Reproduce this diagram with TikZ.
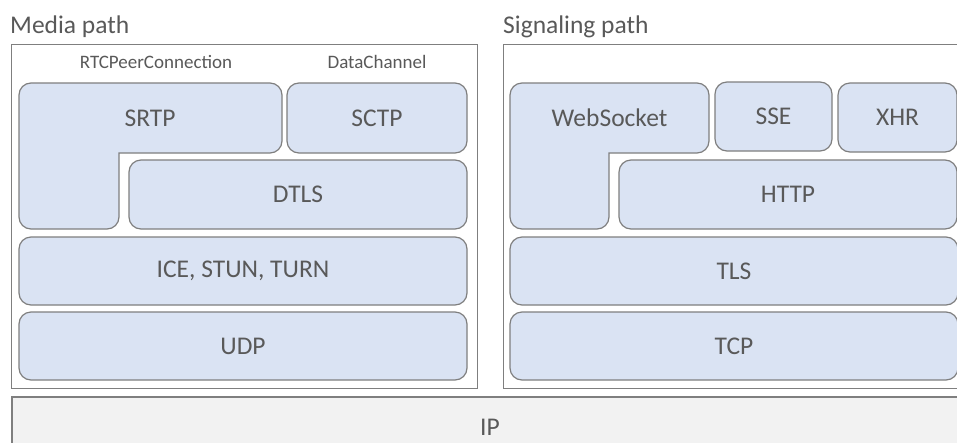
\documentclass[tikz,border=0pt]{standalone}
\usepackage{fontspec}
\setmainfont{Carlito}
\definecolor{layerblue}{HTML}{DAE3F3}
\definecolor{edgegray}{HTML}{7F7F7F}
\definecolor{textgray}{HTML}{595959}
\definecolor{ipgray}{HTML}{F2F2F2}
\tikzset{
    layer/.style={draw=edgegray, line width=1.2pt, fill=layerblue, rounded corners=12pt,
        inner sep=0pt, text=textgray, font=\fontsize{25.5}{30}\selectfont},
    pathbox/.style={draw=edgegray, line width=1pt, fill=white, inner sep=0pt},
    title/.style={anchor=base west, inner sep=0pt, text=textgray, font=\fontsize{25.5}{30}\selectfont},
    api/.style={anchor=base, inner sep=0pt, text=textgray, font=\fontsize{19}{23}\selectfont},
    lname/.style={inner sep=0pt, text=textgray, font=\fontsize{25.5}{30}\selectfont},
}
\begin{document}
\begin{tikzpicture}[x=1pt, y=-1pt]
            \useasboundingbox (0,0) rectangle (957,442);
            \clip (0,0) rectangle (957,442);
            % titles
            \node[title] (mediatitle) at (10,33) {Media path};
            \node[title] (sigtitle) at (503,33) {Signaling path};
            % frames
            \node[pathbox, minimum width=466pt, minimum height=344pt] (media) at (244,216) {};
            \node[pathbox, minimum width=464pt, minimum height=344pt] (signaling) at (735,216) {};
            \node[api] (peer) at (156,68) {RTCPeerConnection};
            \node[api] (channel) at (377,68) {DataChannel};
            % media stack
            \draw[layer] (19,83) -- (282,83) -- (282,153) [sharp corners] -- (119,153) [rounded corners=12pt] -- (119,229) -- (19,229) -- cycle;
            \node[lname] (srtp) at (150,118) {SRTP};
            \node[layer, minimum width=180pt, minimum height=70pt] (sctp) at (377,118) {SCTP};
            \node[layer, minimum width=338pt, minimum height=69pt] (dtls) at (298,194.5) {DTLS};
            \node[layer, minimum width=448pt, minimum height=68pt] (ice) at (243,271) {ICE, STUN, TURN};
            \node[layer, minimum width=448pt, minimum height=68pt] (udp) at (243,346) {UDP};
            % signaling stack
            \draw[layer] (510,83) -- (709,83) -- (709,153) [sharp corners] -- (609,153) [rounded corners=12pt] -- (609,229) -- (510,229) -- cycle;
            \node[lname] (websocket) at (609.5,118) {WebSocket};
            \node[layer, minimum width=117pt, minimum height=69pt] (sse) at (773.5,116.5) {SSE};
            \node[layer, minimum width=119pt, minimum height=69pt] (xhr) at (897.5,117.5) {XHR};
            \node[layer, minimum width=338pt, minimum height=69pt] (http) at (788,194.5) {HTTP};
            \node[layer, minimum width=448pt, minimum height=68pt] (tls) at (734,271) {TLS};
            \node[layer, minimum width=448pt, minimum height=68pt] (tcp) at (734,346) {TCP};
            % network
            \node[draw=edgegray, line width=1.2pt, fill=ipgray, inner sep=0pt, text=textgray,
                font=\fontsize{25.5}{30}\selectfont, minimum width=956pt, minimum height=60pt] (ip) at (490,427) {IP};
        \end{tikzpicture}
\end{document}
